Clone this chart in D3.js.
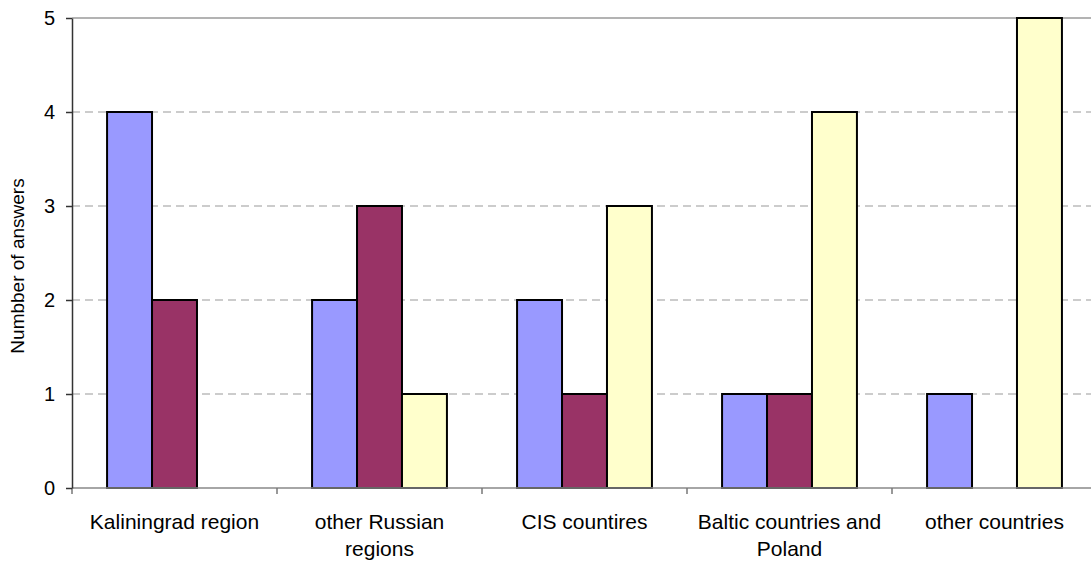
<!DOCTYPE html>
<html>
<head>
<meta charset="utf-8">
<script src="https://cdn.jsdelivr.net/npm/d3@7"></script>
<style>
  body { margin: 0; background: #fff; }
  text { font-family: Arial, "Liberation Sans", sans-serif; }
</style>
</head>
<body>
<div id="chart"></div>
<script>
// Data
var categories = [["Kaliningrad region"], ["other Russian", "regions"], ["CIS countires"], ["Baltic countries and", "Poland"], ["other countries"]];
var seriesA = [4, 2, 2, 1, 1];
var seriesB = [2, 3, 1, 1, 0];
var seriesC = [0, 1, 3, 4, 5];
var yTicks = [0, 1, 2, 3, 4, 5];

var colors = ["#9999ff", "#993366", "#ffffcc"];

// SVG setup
var width = 1091, height = 563;
var margin = {left: 72, top: 18, bottom: 75};
var plotW = 1025, plotH = height - margin.top - margin.bottom;

var svg = d3.select("#chart").append("svg")
	.attr("width", width).attr("height", height);
var g = svg.append("g").attr("transform", "translate(" + margin.left + "," + margin.top + ")");

var x0 = d3.scaleBand().domain(d3.range(categories.length)).range([0, plotW]);
var x1 = d3.scaleBand().domain([0, 1, 2]).range([0, x0.bandwidth()]).paddingOuter(0.78).paddingInner(0);
var y = d3.scaleLinear().domain([0, 5]).range([plotH, 0]);

// Gridlines
g.selectAll("line.grid").data(yTicks.filter(function(d) { return d > 0; })).enter().append("line")
	.attr("x1", 0).attr("x2", plotW)
	.attr("y1", function(d) { return y(d); }).attr("y2", function(d) { return y(d); })
	.attr("stroke", function(d) { return d == 5 ? "#9a9a9a" : "#999"; })
	.attr("stroke-width", function(d) { return d == 5 ? 1.5 : 1; })
	.attr("stroke-dasharray", function(d) { return d == 5 ? null : "8,5"; });

// Bars
var rows = categories.map(function(c, i) {
	return [seriesA[i], seriesB[i], seriesC[i]].map(function(v, j) { return {v: v, j: j}; })
		.filter(function(d) { return d.v > 0; });
});
var grp = g.selectAll("g.cat").data(rows).enter().append("g")
	.attr("transform", function(d, i) { return "translate(" + x0(i) + ",0)"; });
grp.selectAll("rect").data(function(d) { return d; }).enter().append("rect")
	.attr("x", function(d) { return x1(d.j); })
	.attr("width", x1.bandwidth())
	.attr("y", function(d) { return y(d.v); })
	.attr("height", function(d) { return y(0) - y(d.v); })
	.attr("fill", function(d) { return colors[d.j]; })
	.attr("stroke", "#000")
	.attr("stroke-width", 2);

// X baseline and category ticks
g.append("line").attr("x1", 0).attr("x2", plotW).attr("y1", plotH).attr("y2", plotH)
	.attr("stroke", "#888").attr("stroke-width", 1.5);
g.selectAll("line.ctick").data(d3.range(categories.length + 1)).enter().append("line")
	.attr("x1", function(d) { return d * x0.step(); }).attr("x2", function(d) { return d * x0.step(); })
	.attr("y1", plotH).attr("y2", plotH + 6)
	.attr("stroke", "#777").attr("stroke-width", 1.5);

// Category labels
var lab = g.selectAll("text.cat").data(categories).enter().append("text")
	.attr("text-anchor", "middle")
	.attr("font-size", "21px")
	.attr("fill", "#000")
	.attr("transform", function(d, i) { return "translate(" + (x0(i) + x0.bandwidth() / 2) + "," + (plotH + 41) + ")"; });
lab.selectAll("tspan").data(function(d) { return d; }).enter().append("tspan")
	.attr("x", 0).attr("dy", function(d, k) { return k ? 27 : 0; })
	.text(function(d) { return d; });

// Y axis
var yAxis = g.append("g").call(d3.axisLeft(y).tickValues(yTicks).tickFormat(d3.format("d")).tickSize(6).tickPadding(11).tickSizeOuter(0));
yAxis.select(".domain").attr("stroke", "#333").attr("stroke-width", 1.5);
yAxis.selectAll(".tick line").attr("stroke", "#333").attr("stroke-width", 1.5);
yAxis.selectAll(".tick text").attr("font-size", "20px").attr("font-family", "Arial, 'Liberation Sans', sans-serif").attr("fill", "#000");

// Y label
svg.append("text")
	.attr("transform", "translate(24,266) rotate(-90)")
	.attr("text-anchor", "middle")
	.attr("font-size", "19px")
	.attr("fill", "#000")
	.text("Numbber of answers");
</script>
</body>
</html>
